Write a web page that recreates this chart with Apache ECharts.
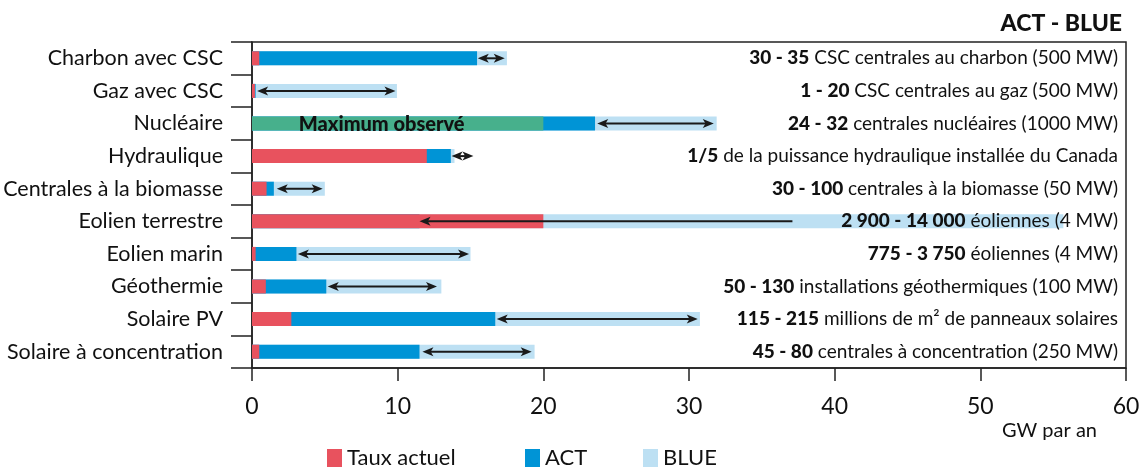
<!DOCTYPE html>
<html><head><meta charset="utf-8">
<script src="https://cdn.jsdelivr.net/npm/echarts@6/dist/echarts.min.js"></script>
<style>html,body{margin:0;padding:0;background:#fff}#c{width:1148px;height:467px}</style>
</head><body><div id="c"></div>
<script>
const categories = ['Charbon avec CSC','Gaz avec CSC','Nucléaire','Hydraulique','Centrales à la biomasse','Eolien terrestre','Eolien marin','Géothermie','Solaire PV','Solaire à concentration'];
const tauxActuel = [0.5, 0.2, null, 12.0, 1.0, 20.0, 0.25, 0.95, 2.7, 0.5];
const maxObserve = [null, null, 20.0, null, null, null, null, null, null, null];
const actTotal = [15.45, 0.25, 23.55, 13.65, 1.5, 11.5, 3.05, 5.1, 16.7, 11.5];
const blueTotal = [17.5, 9.95, 31.9, 13.9, 5.0, 55.7, 15.0, 13.0, 30.75, 19.4];
const arrowFrom = [15.5, 0.35, 23.7, 13.7, 1.7, 37.1, 3.15, 5.2, 16.8, 11.7];
const arrowTo = [17.35, 9.85, 31.7, 15.2, 4.85, 11.5, 14.9, 12.7, 30.6, 19.2];
const arrowHeads = [2, 2, 2, 2, 2, 1, 2, 2, 2, 2];
const noteBold = ['30 - 35','1 - 20','24 - 32','1/5','30 - 100','2 900 - 14 000','775 - 3 750','50 - 130','115 - 215','45 - 80'];
const noteText = [' CSC centrales au charbon (500 MW)',' CSC centrales au gaz (500 MW)',' centrales nucléaires (1000 MW)',' de la puissance hydraulique installée du Canada',' centrales à la biomasse (50 MW)',' éoliennes (4 MW)',' éoliennes (4 MW)',' installations géothermiques (100 MW)',' millions de m² de panneaux solaires',' centrales à concentration (250 MW)'];
const xTicks = [0, 60, 10];

const FONT = 'Lato';
const C_RED = '#E8525E', C_ACT = '#0094D6', C_BLUE = '#BDE0F3', C_GREEN = '#47B08C';

const chart = echarts.init(document.getElementById('c'), null, {renderer:'canvas'});
const arrowData = categories.map((c,i)=>[i, arrowFrom[i], arrowTo[i], arrowHeads[i]]);

function head(tip, dir, col){
  const L = 11, H = 4.5;
  return {type:'polygon', shape:{points:[[tip[0],tip[1]],[tip[0]-dir*L,tip[1]-H],[tip[0]-dir*L*0.75,tip[1]],[tip[0]-dir*L,tip[1]+H]]}, style:{fill:col}};
}
const legendText = {fontFamily:FONT, fontSize:22, color:'#111', padding:[6,0,0,0]};

chart.setOption({
  animation:false,
  title:{text:'ACT - BLUE', right:21, top:7, textStyle:{fontFamily:FONT, fontSize:23, fontWeight:900, color:'#111'}},
  grid:{left:252, right:22, top:42, bottom:99, show:true, borderColor:'#222', borderWidth:1.5, backgroundColor:'transparent'},
  legend:[
    {data:['Taux actuel'], left:322, top:442, itemWidth:15, itemHeight:18, itemGap:0, textStyle:legendText, selectedMode:false, icon:'rect'},
    {data:['ACT'], left:520, top:442, itemWidth:15, itemHeight:18, textStyle:legendText, selectedMode:false, icon:'rect'},
    {data:['BLUE'], left:638, top:442, itemWidth:15, itemHeight:18, textStyle:legendText, selectedMode:false, icon:'rect'}
  ],
  graphic:[{type:'text', right:51, top:421, style:{text:'GW par an', font:'20px '+FONT, fill:'#111'}}],
  xAxis:{type:'value', min:xTicks[0], max:xTicks[1], interval:xTicks[2], splitLine:{show:false},
    axisLine:{show:true, lineStyle:{color:'#222', width:1.5}},
    axisTick:{show:true, length:13, lineStyle:{color:'#222', width:1.5}},
    axisLabel:{fontFamily:FONT, fontSize:23, color:'#111', margin:27}},
  yAxis:[
    {type:'category', data:categories, inverse:true,
      axisLine:{show:true, lineStyle:{color:'#222', width:1.5}},
      axisTick:{show:true, length:21, lineStyle:{color:'#222', width:1.5}},
      axisLabel:{fontFamily:FONT, fontSize:21.5, color:'#111', margin:29, padding:[0,0,9,0]}},
    {type:'category', data:categories, inverse:true, position:'right', z:10,
      axisLine:{show:false}, axisTick:{show:false},
      axisLabel:{inside:true, margin:8, fontFamily:FONT, fontSize:19, color:'#111',
        formatter:(v,i)=>'{b|'+noteBold[i]+'}'+noteText[i],
        rich:{b:{fontFamily:FONT, fontSize:19, fontWeight:900, color:'#111'}}}}
  ],
  series:[
    {name:'BLUE', type:'bar', data:blueTotal, barWidth:14, barGap:'-100%', itemStyle:{color:C_BLUE}, z:2},
    {name:'ACT', type:'bar', data:actTotal, barWidth:14, barGap:'-100%', itemStyle:{color:C_ACT}, z:3},
    {name:'Taux actuel', type:'bar', data:tauxActuel, barWidth:14, barGap:'-100%', itemStyle:{color:C_RED}, z:4},
    {name:'Maximum observé', type:'bar', data:maxObserve, barWidth:14, barGap:'-100%', itemStyle:{color:C_GREEN}, z:5,
      label:{show:true, position:'inside', offset:[-16,1], formatter:'Maximum observé', fontFamily:FONT, fontSize:20, fontWeight:900, color:'#111'}},
    {name:'arrows', type:'custom', z:6, data:arrowData, encode:{x:[1,2], y:0},
      renderItem:function(params, api){
        const y = api.value(0), a = api.value(1), b = api.value(2), h = api.value(3);
        const p1 = api.coord([a, y]), p2 = api.coord([b, y]);
        const col = '#1a1a1a';
        const dir = p2[0] > p1[0] ? 1 : -1;
        const children = [{type:'line', shape:{x1:p1[0]+dir*(h===2?6:0), y1:p1[1], x2:p2[0]-dir*6, y2:p2[1]}, style:{stroke:col, lineWidth:2}},
          head(p2, dir, col)];
        if (h === 2) children.push(head(p1, -dir, col));
        return {type:'group', children};
      }}
  ]
});
</script></body></html>
